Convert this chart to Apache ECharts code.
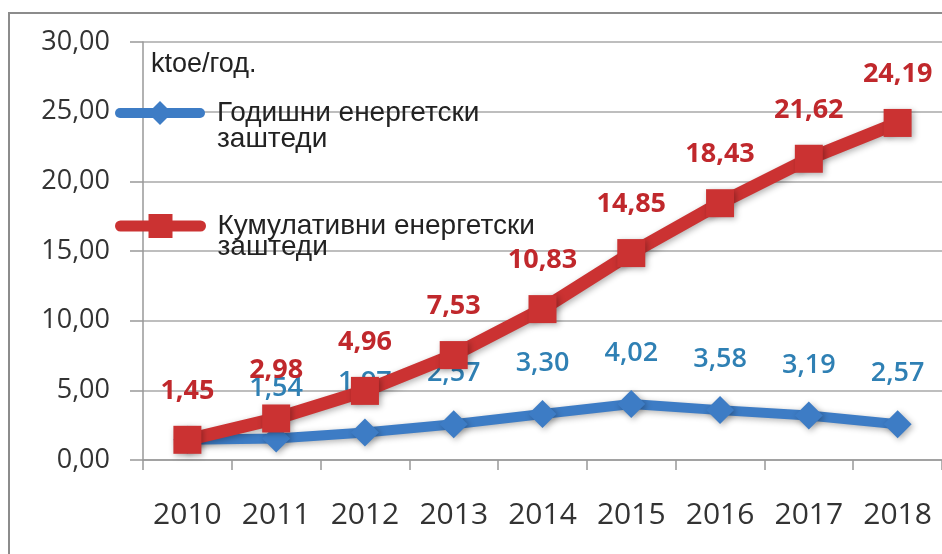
<!DOCTYPE html>
<html><head><meta charset="utf-8">
<script src="https://cdn.jsdelivr.net/npm/echarts@6/dist/echarts.min.js"></script>
<style>html,body{margin:0;padding:0;background:#fff}#c{width:942px;height:554px}</style>
</head><body><div id="c"></div>
<script>
const years = ['2010','2011','2012','2013','2014','2015','2016','2017','2018'];
const annual = [1.45, 1.54, 1.97, 2.57, 3.30, 4.02, 3.58, 3.19, 2.57];
const cumulative = [1.45, 2.98, 4.96, 7.53, 10.83, 14.85, 18.43, 21.62, 24.19];
const seriesNames = ['Годишни енергетски\nзаштеди', 'Кумулативни енергетски\nзаштеди'];
const unitLabel = 'ktoe/год.';

const fmt = v => Number(v).toFixed(2).replace('.', ',');
const blue = '#3d7cc5', red = '#cb3232';
const shadow = {shadowBlur: 6, shadowColor: 'rgba(0,0,0,0.3)', shadowOffsetX: 2, shadowOffsetY: 2};

const chart = echarts.init(document.getElementById('c'));
chart.setOption({
  animation: false,
  backgroundColor: '#fff',
  graphic: [{type: 'rect', silent: true, z: -1, shape: {x: 9, y: 13, width: 1000, height: 600},
    style: {fill: 'none', stroke: '#8c8c8c', lineWidth: 2}}],
  title: {text: unitLabel, left: 151, top: 51, padding: 0,
    textStyle: {fontFamily: 'Liberation Sans', fontSize: 27, fontWeight: 'normal', color: '#222'}},
  legend: [
    {data: [seriesNames[0]], left: 115, top: 73, padding: 0, orient: 'vertical', selectedMode: false,
      itemWidth: 80, itemHeight: 30,
      formatter: n => '\n' + n,
      lineStyle: {width: 10, cap: 'round'},
      textStyle: {fontFamily: 'Liberation Sans', fontSize: 28, lineHeight: 26, color: '#222', padding: [0, 0, 0, 12]}},
    {data: [seriesNames[1]], left: 115, top: 191, padding: 0, orient: 'vertical', selectedMode: false,
      itemWidth: 80, itemHeight: 30,
      formatter: n => '\n' + n,
      lineStyle: {width: 11, cap: 'round'},
      textStyle: {fontFamily: 'Liberation Sans', fontSize: 28, lineHeight: 21, color: '#222', padding: [0, 0, 0, 12]}}
  ],
  grid: {left: 143, right: 0, top: 42, bottom: 94, containLabel: false},
  xAxis: {
    type: 'category', data: years, boundaryGap: true,
    axisLine: {show: true, lineStyle: {color: '#999', width: 1.5}},
    axisTick: {show: true, length: 10, interval: 0, lineStyle: {color: '#999', width: 1.5}},
    axisLabel: {interval: 0, hideOverlap: false, fontFamily: 'Open Sans', fontSize: 30, color: '#333', margin: 40}
  },
  yAxis: {
    type: 'value', min: 0, max: 30, interval: 5,
    axisLine: {show: true, lineStyle: {color: '#999', width: 1.5}},
    axisTick: {show: true, length: 13, lineStyle: {color: '#999', width: 1.5}},
    splitLine: {show: true, lineStyle: {color: '#a8a8a8', width: 1.5}},
    axisLabel: {formatter: fmt, fontFamily: 'Open Sans', fontSize: 27, color: '#333', margin: 33}
  },
  series: [
    {name: seriesNames[0], type: 'line', z: 2,
      data: annual.map((v, i) => i === 0 ? {value: v, label: {show: false}} : v),
      symbol: 'diamond', symbolSize: 28,
      lineStyle: Object.assign({color: blue, width: 10}, shadow),
      itemStyle: Object.assign({color: blue}, shadow),
      label: {show: true, position: 'top', distance: 23, formatter: p => fmt(p.value),
        fontFamily: 'Open Sans', fontSize: 27, fontWeight: 600, color: '#2f80b4'}},
    {name: seriesNames[1], type: 'line', z: 3,
      data: cumulative,
      symbol: 'rect', symbolSize: 28,
      lineStyle: Object.assign({color: red, width: 13}, shadow),
      itemStyle: Object.assign({color: red}, shadow),
      label: {show: true, position: 'top', distance: 21, formatter: p => fmt(p.value),
        fontFamily: 'Open Sans', fontSize: 27, fontWeight: 'bold', color: '#c0282c'}}
  ]
});
</script></body></html>
